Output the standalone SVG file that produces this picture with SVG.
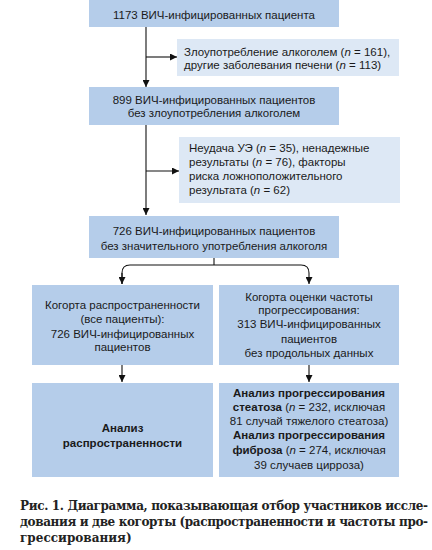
<svg xmlns="http://www.w3.org/2000/svg" width="432" height="550" viewBox="0 0 432 550">
<style>
.main{fill:#b5cdea}
.side{fill:#dde8f5}
.t{font-family:"Liberation Sans",Arial,sans-serif;font-size:11.5px;fill:#1a1a1a}
.c{text-anchor:middle}
.b{font-weight:bold}
.i{font-style:italic}
.ln{fill:none;stroke:#111;stroke-width:1.1}
.cap{font-family:"DejaVu Serif","Liberation Serif",serif;font-weight:bold;font-size:12px;fill:#222}
</style>
<defs>
<marker id="ah" viewBox="0 0 10 10" refX="10" refY="5" markerWidth="7" markerHeight="7" markerUnits="userSpaceOnUse" orient="auto">
<path d="M0,0 L10,5 L0,10 z" fill="#111"/>
</marker>
</defs>
<rect width="432" height="550" fill="#fff"/>
<g id="connectors">
<path class="ln" d="M146,27 V87" marker-end="url(#ah)"/>
<path class="ln" d="M146,57 H177" marker-end="url(#ah)"/>
<path class="ln" d="M146,125 V215" marker-end="url(#ah)"/>
<path class="ln" d="M146,171 H179" marker-end="url(#ah)"/>
<path class="ln" d="M214,258 V265"/>
<path class="ln" d="M122,284 V273 Q122,265 130,265 H301 Q309,265 309,273 V284" marker-end="url(#ah)"/>
<path class="ln" d="M122,273 V284" marker-end="url(#ah)"/>
<path class="ln" d="M122,365 V382" marker-end="url(#ah)"/>
<path class="ln" d="M309,365 V382" marker-end="url(#ah)"/>
</g>
<g id="n1">
<rect class="main" x="89" y="0" width="250" height="27"/>
<text class="t c" x="214" y="19">1173 ВИЧ-инфицированных пациента</text>
</g>
<g id="n2">
<rect class="side" x="177" y="39" width="222" height="37"/>
<text class="t" x="184" y="56">Злоупотребление алкоголем (<tspan class="i">n</tspan> = 161),</text>
<text class="t" x="184" y="69">другие заболевания печени (<tspan class="i">n</tspan> = 113)</text>
</g>
<g id="n3">
<rect class="main" x="89" y="87" width="250" height="38"/>
<text class="t c" x="214" y="104">899 ВИЧ-инфицированных пациентов</text>
<text class="t c" x="214" y="117">без злоупотребления алкоголем</text>
</g>
<g id="n4">
<rect class="side" x="179" y="137" width="221" height="66"/>
<text class="t" x="189" y="152">Неудача УЭ (<tspan class="i">n</tspan> = 35), ненадежные</text>
<text class="t" x="189" y="166">результаты (<tspan class="i">n</tspan> = 76), факторы</text>
<text class="t" x="189" y="180">риска ложноположительного</text>
<text class="t" x="189" y="194">результата (<tspan class="i">n</tspan> = 62)</text>
</g>
<g id="n5">
<rect class="main" x="89" y="216" width="250" height="42"/>
<text class="t c" x="214" y="235">726 ВИЧ-инфицированных пациентов</text>
<text class="t c" x="214" y="250">без значительного употребления алкоголя</text>
</g>
<g id="n6">
<rect class="main" x="32" y="285" width="181" height="80"/>
<text class="t c" x="122.5" y="309">Когорта распространенности</text>
<text class="t c" x="122.5" y="323">(все пациенты):</text>
<text class="t c" x="122.5" y="338">726 ВИЧ-инфицированных</text>
<text class="t c" x="122.5" y="351">пациентов</text>
</g>
<g id="n7">
<rect class="main" x="219" y="285" width="180" height="80"/>
<text class="t c" x="309" y="301">Когорта оценки частоты</text>
<text class="t c" x="309" y="314">прогрессирования:</text>
<text class="t c" x="309" y="328">313 ВИЧ-инфицированных</text>
<text class="t c" x="309" y="343">пациентов</text>
<text class="t c" x="309" y="357">без продольных данных</text>
</g>
<g id="n8">
<rect class="main" x="32" y="383" width="181" height="94"/>
<text class="t c b" x="122.5" y="432">Анализ</text>
<text class="t c b" x="122.5" y="447">распространенности</text>
</g>
<g id="n9">
<rect class="main" x="219" y="383" width="180" height="94"/>
<text class="t c b" x="309" y="397">Анализ прогрессирования</text>
<text class="t c" x="309" y="411"><tspan class="b">стеатоза</tspan> (<tspan class="i">n</tspan> = 232, исключая</text>
<text class="t c" x="309" y="425">81 случай тяжелого стеатоза)</text>
<text class="t c b" x="309" y="439">Анализ прогрессирования</text>
<text class="t c" x="309" y="454"><tspan class="b">фиброза</tspan> (<tspan class="i">n</tspan> = 274, исключая</text>
<text class="t c" x="309" y="469">39 случаев цирроза)</text>
</g>
<g id="caption">
<text class="cap" x="20" y="510" textLength="408" lengthAdjust="spacing">Рис. 1. Диаграмма, показывающая отбор участников иссле-</text>
<text class="cap" x="20" y="526" textLength="408" lengthAdjust="spacing">дования и две когорты (распространенности и частоты про-</text>
<text class="cap" x="20" y="542">грессирования)</text>
</g>
</svg>
